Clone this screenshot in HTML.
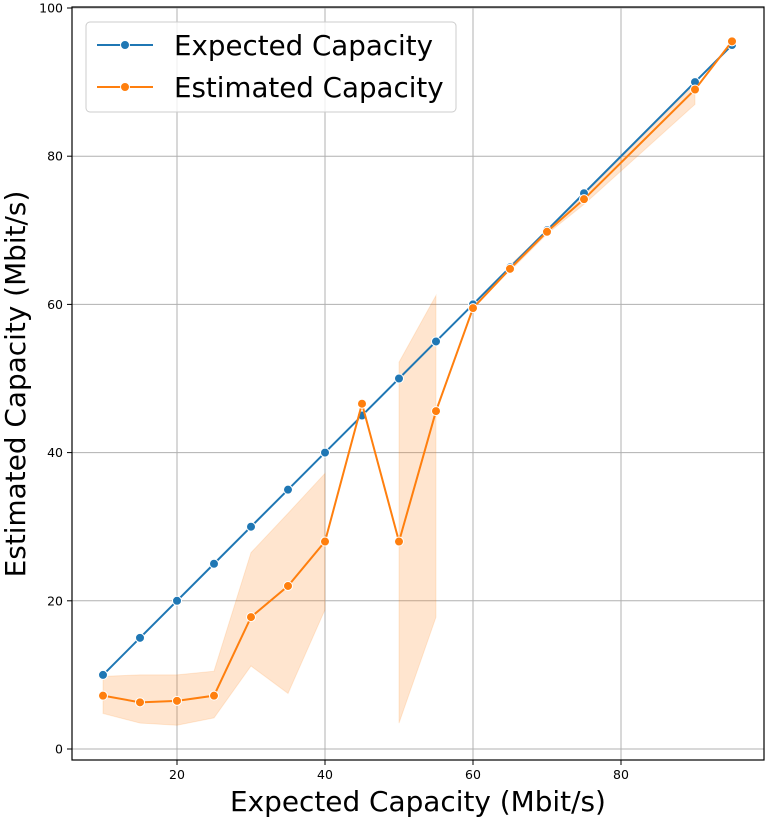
<!DOCTYPE html>
<html><head><meta charset="utf-8"><style>
html,body{margin:0;padding:0;background:#fff;}
svg{display:block;font-family:"DejaVu Sans","Liberation Sans",sans-serif;}
</style></head><body>
<svg id="chart" width="768" height="818">
<g id="grid"></g>
<g id="band"></g>
<g id="series"></g>
<rect x="72" y="7" width="692" height="753" fill="none" stroke="#000" stroke-width="1.2"/>
<g id="ticks"></g>
<text x="418" y="811" font-size="27.9" text-anchor="middle">Expected Capacity (Mbit/s)</text>
<text transform="translate(25,384) rotate(-90)" font-size="27.9" text-anchor="middle">Estimated Capacity (Mbit/s)</text>
<g>
<rect x="86" y="22" width="370" height="90" rx="4" fill="#fff" fill-opacity="0.8" stroke="#ccc"/>
<g>
<line x1="97" y1="45" x2="153" y2="45" stroke="#1f77b4" stroke-width="2"/>
<circle cx="125" cy="45" r="4.5" fill="#1f77b4" stroke="#fff"/>
<text x="174" y="55" font-size="27.7">Expected Capacity</text></g>
<g>
<line x1="97" y1="87" x2="153" y2="87" stroke="#ff7f0e" stroke-width="2"/>
<circle cx="125" cy="87" r="4.5" fill="#ff7f0e" stroke="#fff"/>
<text x="174" y="97" font-size="27.7">Estimated Capacity</text></g>
</g>
</svg>
<script>
const xs=[10,15,20,25,30,35,40,45,50,55,60,65,70,75,90,95];
const expected=[10,15,20,25,30,35,40,45,50,55,60,65,70,75,90,95];
const estimated=[7.2,6.3,6.5,7.2,17.8,22,28,46.6,28,45.6,59.5,64.8,69.8,74.2,89,95.5];
const bandLow=[4.8,3.5,3.2,4.2,11.2,7.5,18.8,null,3.5,17.8,null,64.5,69.5,73.5,87,null];
const bandHigh=[9.8,10,10,10.5,26.5,31.8,37.2,null,52.2,61.2,null,65.3,70,74.8,89.8,null];
const xTicks=[20,40,60,80];
const yTicks=[0,20,40,60,80,100];
const X=v=>29+v*7.4, Y=v=>749-v*7.41;
const NS="http://www.w3.org/2000/svg";
function mk(t,p,a){const e=document.createElementNS(NS,t);for(const k in a)e.setAttribute(k,a[k]);p.appendChild(e);return e;}
const grid=document.getElementById('grid'),ticks=document.getElementById('ticks');
xTicks.forEach(v=>{
 const g=mk('line',grid,{x1:X(v),x2:X(v),y1:7,y2:760,stroke:'#b0b0b0','stroke-width':1});
 
 
 mk('line',ticks,{x1:X(v),x2:X(v),y1:760,y2:765,stroke:'#000'});
 const t=mk('text',ticks,{x:X(v),y:779,'font-size':12.5,'text-anchor':'middle'});t.textContent=v;
 
 
});
yTicks.forEach(v=>{
 const g=mk('line',grid,{x1:72,x2:764,y1:Y(v),y2:Y(v),stroke:'#b0b0b0','stroke-width':1});
 
 
 mk('line',ticks,{x1:67,x2:72,y1:Y(v),y2:Y(v),stroke:'#000'});
 const t=mk('text',ticks,{x:63,y:Y(v)+4.5,'font-size':12.5,'text-anchor':'end'});t.textContent=v;
 
 
});
let segs=[],cur=[];
xs.forEach((x,i)=>{if(bandLow[i]==null){if(cur.length>1)segs.push(cur);cur=[];}else cur.push(i);});
if(cur.length>1)segs.push(cur);
const bandG=document.getElementById('band');
segs.forEach(seg=>{
 let d=seg.map((i,k)=>(k?'L':'M')+X(xs[i])+','+Y(bandHigh[i])).join('');
 for(let k=seg.length-1;k>=0;k--)d+='L'+X(xs[seg[k]])+','+Y(bandLow[seg[k]]);
 const band=mk('path',bandG,{d:d+'Z',fill:'#ff7f0e','fill-opacity':0.2,stroke:'#ff7f0e','stroke-opacity':0.15});
 
 
});
const s=document.getElementById('series');
[[expected,'#1f77b4','expected'],[estimated,'#ff7f0e','estimated']].forEach(([ys,c,n])=>{
 const l=mk('polyline',s,{points:xs.map((x,i)=>X(x)+','+Y(ys[i])).join(' '),fill:'none',stroke:c,'stroke-width':2});
 
 
 xs.forEach((x,i)=>{
  const p=mk('circle',s,{cx:X(x),cy:Y(ys[i]),r:4.5,fill:c,stroke:'#fff','stroke-width':1});
  
  
 });
});
</script>
</body></html>
